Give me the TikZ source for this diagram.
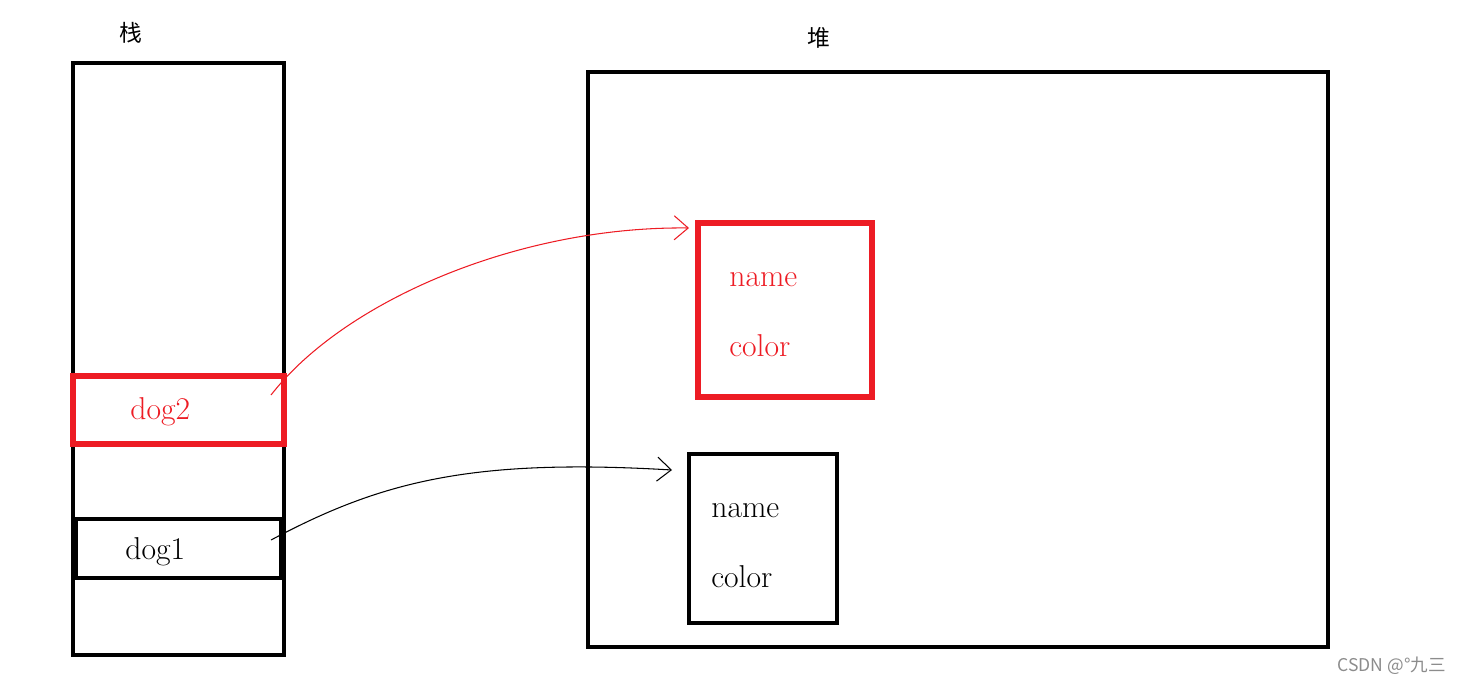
\documentclass[tikz,border=0pt]{standalone}
\usepackage{fontspec}
\usetikzlibrary{arrows.meta}
\newfontfamily\cjk{Noto Sans CJK SC}
\definecolor{paintred}{RGB}{237,28,36}
\definecolor{mark}{gray}{.55}

\tikzset{
  frame/.style={line width=2.3pt},
  redframe/.style={line width=2.9pt, draw=paintred},
  lbl/.style={font=\fontsize{18}{20}\selectfont, anchor=base west, inner sep=0pt},
  ptr/.style={line width=0.6pt, -{Straight Barb[length=0.28cm,width=0.48cm]}}
}

\begin{document}
\begin{tikzpicture}[x=0.02cm,y=-0.02cm]
\useasboundingbox (0,0) rectangle (1462,683);
% stack
\node[font=\cjk\fontsize{13}{15}\selectfont] (zhan) at (131,33) {栈};
\draw[frame] (73,63) rectangle (284,655);
\draw[frame] (76,519) rectangle (281,578);
\draw[redframe] (73,376) rectangle (284,444);
\node[lbl, text=paintred] (dogtwo) at (130,419) {dog2};
\node[lbl] (dogone) at (125,559) {dog1};
% heap
\node[font=\cjk\fontsize{13}{15}\selectfont] (dui) at (819,38) {堆};
\draw[frame] (588,72) rectangle (1328,647);
\draw[redframe] (698,223) rectangle (872,397);
\foreach \t/\y in {name/286, color/356} { \node[lbl, text=paintred] (red\t) at (729,\y) {\t}; }
\draw[frame] (689,454) rectangle (837,623);
\foreach \t/\y in {name/517, color/587} { \node[lbl] (black\t) at (711,\y) {\t}; }
% pointers
\coordinate (fromtwo) at (271,395);
\coordinate (totwo) at (689,228);
\coordinate (fromone) at (271,540);
\coordinate (toone) at (672,470);
\draw[ptr, paintred] (fromtwo) .. controls (345,300) and (520,226) .. (totwo);
\draw[ptr] (fromone) .. controls (380,482) and (470,458) .. (toone);
% watermark
\node[font=\cjk\fontsize{10}{12}\selectfont, text=mark, anchor=east] (csdn) at (1452,666) {CSDN @°九三};
\end{tikzpicture}
\end{document}
